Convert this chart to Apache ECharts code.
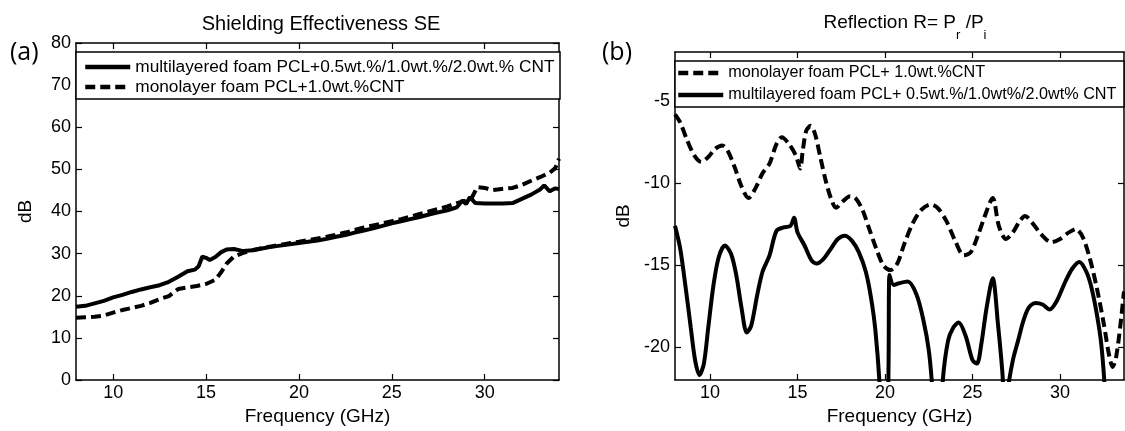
<!DOCTYPE html>
<html><head><meta charset="utf-8">
<script src="https://cdn.jsdelivr.net/npm/echarts@6/dist/echarts.min.js"></script>
<style>html,body{margin:0;padding:0;background:#fff}#c{width:1125px;height:431px}</style>
</head><body><div id="c"></div>
<script>
// ---------- DATA ----------
// (a) Shielding effectiveness SE (dB) vs frequency (GHz)
const seMultiFreq = [8.0,8.5,9.0,9.5,10.0,10.5,11.0,11.5,12.0,12.5,13.0,13.5,14.0,14.4,14.6,14.8,15.0,15.2,15.5,15.8,16.1,16.5,17.0,17.5,18.0,18.5,19.0,19.5,20.0,20.5,21.0,21.5,22.0,22.5,23.0,23.5,24.0,24.5,25.0,25.5,26.0,26.5,27.0,27.5,28.0,28.5,28.8,29.0,29.2,29.5,30.0,30.5,31.0,31.5,32.0,32.5,33.0,33.2,33.5,33.8,34.0];
const seMulti     = [17.4,17.6,18.2,18.8,19.6,20.2,20.9,21.5,22.0,22.5,23.3,24.5,25.8,26.2,27.0,29.3,29.0,28.5,29.2,30.3,31.0,31.1,30.6,30.8,31.2,31.6,31.9,32.2,32.5,32.8,33.1,33.5,34.0,34.4,35.0,35.5,36.0,36.6,37.2,37.7,38.2,38.7,39.3,39.8,40.3,41.0,42.6,41.8,43.4,42.0,41.9,41.9,41.9,42.0,43.0,44.0,45.3,46.2,44.8,45.5,45.3];
const seMonoFreq  = [8.0,8.5,9.0,9.5,10.0,10.5,11.0,11.5,12.0,12.5,13.0,13.5,14.0,14.5,15.0,15.5,15.8,16.1,16.5,17.0,17.5,18.0,18.5,19.0,19.5,20.0,20.5,21.0,21.5,22.0,22.5,23.0,23.5,24.0,24.5,25.0,25.5,26.0,26.5,27.0,27.5,28.0,28.5,29.0,29.3,29.6,30.0,30.4,30.8,31.5,32.0,32.5,33.0,33.5,33.8,34.0];
const seMono      = [14.8,14.9,15.0,15.3,16.0,16.6,17.1,17.6,18.3,19.2,19.9,21.6,22.0,22.3,22.8,23.8,25.5,27.6,29.3,30.2,30.8,31.3,31.7,32.1,32.5,32.8,33.2,33.6,34.0,34.5,35.0,35.6,36.2,36.7,37.2,37.7,38.2,38.8,39.4,40.0,40.6,41.2,42.0,42.6,43.2,45.8,45.6,45.1,45.3,45.6,46.3,47.3,48.2,49.2,50.3,52.5];

// (b) Reflection R (dB) vs frequency (GHz)
const rMonoFreq = [8.0,8.3,8.7,9.1,9.5,9.9,10.3,10.7,11.0,11.4,11.8,12.2,12.6,13.0,13.4,13.8,14.1,14.5,14.9,15.15,15.3,15.5,15.75,16.0,16.3,16.6,16.9,17.2,17.6,18.0,18.3,18.7,19.1,19.5,19.9,20.3,20.7,21.1,21.6,22.1,22.6,23.0,23.5,24.0,24.5,24.9,25.3,25.7,26.15,26.5,26.9,27.3,27.7,28.0,28.4,28.9,29.5,30.0,30.5,30.9,31.3,31.7,32.1,32.5,32.8,33.0,33.2,33.45,33.65];
const rMono     = [-5.8,-6.3,-7.4,-8.3,-8.7,-8.4,-7.9,-7.7,-8.0,-9.0,-10.2,-10.9,-10.3,-9.4,-8.8,-7.6,-7.2,-7.6,-8.3,-9.1,-8.0,-6.8,-6.5,-7.0,-8.4,-9.8,-10.9,-11.5,-11.1,-10.8,-10.9,-11.6,-12.8,-14.0,-15.0,-15.3,-14.9,-13.7,-12.4,-11.6,-11.3,-11.5,-12.3,-13.5,-14.4,-14.2,-13.2,-12.0,-10.9,-12.6,-13.4,-13.0,-12.3,-12.0,-12.4,-13.1,-13.6,-13.4,-13.0,-12.8,-13.3,-14.6,-16.4,-18.6,-20.5,-21.2,-20.6,-18.6,-16.6];
const rMultiFreq = [8.0,8.3,8.6,8.9,9.15,9.4,9.65,9.9,10.2,10.5,10.85,11.2,11.5,11.8,12.1,12.35,12.7,13.0,13.4,13.8,14.2,14.6,14.8,15.0,15.4,15.8,16.1,16.5,16.9,17.3,17.7,18.1,18.5,18.9,19.2,19.45,19.7,19.8,20.1,20.2,20.25,20.5,20.8,21.3,21.8,22.2,22.5,22.7,22.9,23.1,23.3,23.6,23.9,24.2,24.6,25.0,25.25,25.5,25.8,26.15,26.45,26.7,26.85,27.05,27.3,27.6,27.9,28.2,28.6,29.0,29.4,29.8,30.3,30.7,31.1,31.5,31.8,32.1,32.35,32.55,32.7];
const rMulti     = [-12.6,-14.0,-16.3,-18.8,-20.8,-21.7,-21.0,-18.8,-16.2,-14.5,-13.8,-14.3,-15.6,-17.6,-19.1,-18.7,-16.8,-15.4,-14.4,-12.9,-12.7,-12.6,-12.1,-13.0,-13.8,-14.7,-14.9,-14.6,-14.0,-13.4,-13.2,-13.5,-14.2,-15.4,-17.0,-19.0,-22.5,-26,-26,-21,-15.6,-16.2,-16.1,-16.0,-16.8,-18.4,-20.2,-22.5,-26,-26,-22.0,-19.6,-18.8,-18.5,-19.3,-20.8,-21.0,-19.8,-17.6,-15.8,-18.6,-21.5,-24,-22.3,-20.8,-19.6,-18.4,-17.6,-17.3,-17.4,-17.7,-17.2,-16.0,-15.2,-14.8,-15.4,-16.4,-18.0,-19.8,-22.5,-26];

const freqTicks = [10, 15, 20, 25, 30];
const rTicks = [-20, -15, -10, -5];

const nameMultiA = 'multilayered foam PCL+0.5wt.%/1.0wt.%/2.0wt.% CNT';
const nameMonoA  = 'monolayer foam PCL+1.0wt.%CNT';
const nameMonoB  = 'monolayer foam PCL+ 1.0wt.%CNT';
const nameMultiB = 'multilayered foam PCL+ 0.5wt.%/1.0wt%/2.0wt% CNT';

// ---------- CHART ----------
const FONT = '"Liberation Sans", Arial, sans-serif';
const pairs = (xs, ys) => xs.map((x, i) => [x, ys[i]]);
const lineAx = { show: true, onZero: false, lineStyle: { color: '#000', width: 1.5 } };

function xAx(grid, pos, min, max, labels) {
  return {
    type: 'value', gridIndex: grid, position: pos, min: min, max: max,
    axisLine: lineAx,
    axisTick: { show: true, inside: true, length: 6, customValues: freqTicks, lineStyle: { color: '#000', width: 1.2 } },
    axisLabel: labels ? { show: true, customValues: freqTicks, color: '#000', fontSize: 18, fontFamily: FONT, margin: 4 } : { show: false },
    splitLine: { show: false },
    name: labels ? 'Frequency (GHz)' : '', nameLocation: 'middle', nameGap: 27,
    nameTextStyle: { color: '#000', fontSize: 19, fontFamily: FONT }
  };
}
function yAx(grid, pos, min, max, custom, interval, labels, gap) {
  const tick = { show: true, inside: true, length: 6, lineStyle: { color: '#000', width: 1.2 } };
  const lab = labels ? { show: true, color: '#000', fontSize: 18, fontFamily: FONT, margin: 5 } : { show: false };
  if (custom) { tick.customValues = custom; if (labels) lab.customValues = custom; }
  const a = {
    type: 'value', gridIndex: grid, position: pos, min: min, max: max,
    axisLine: lineAx, axisTick: tick, axisLabel: lab, splitLine: { show: false },
    name: labels ? 'dB' : '', nameLocation: 'middle', nameGap: gap || 40,
    nameTextStyle: { color: '#000', fontSize: 19, fontFamily: FONT }
  };
  if (interval) a.interval = interval;
  return a;
}
function legendAt(name, left, top, size) {
  return {
    data: [name], left: left, top: top, padding: 0, itemWidth: 45, itemHeight: 18, z: 10,
    selectedMode: false,
    itemStyle: { opacity: 0, borderWidth: 0 },
    lineStyle: { width: 4.5 },
    textStyle: { color: '#000', fontSize: size, fontFamily: FONT, lineHeight: 18 }
  };
}
const solid = { color: '#000', width: 4, type: 'solid' };
const dashed = { color: '#000', width: 4, type: [10, 5] };

const option = {
  backgroundColor: '#fff',
  animation: false,
  title: [
    { text: 'Shielding Effectiveness SE', left: 316, top: 9, textAlign: 'center',
      textStyle: { color: '#000', fontSize: 20, fontWeight: 'normal', fontFamily: FONT } },
    { text: '{m|Reflection R= P}{s|r}{m| /P}{s|i}', left: 900, top: -2, textAlign: 'center',
      textStyle: { color: '#000', fontWeight: 'normal', fontFamily: FONT,
        rich: { m: { fontSize: 19, fontFamily: FONT, color: '#000' },
                s: { fontSize: 13, fontFamily: FONT, color: '#000', padding: [26, 0, 0, 0] } } } }
  ],
  grid: [
    { left: 76, right: 566, top: 43, bottom: 46 },
    { left: 675, right: 1, top: 52, bottom: 46 }
  ],
  xAxis: [
    xAx(0, 'bottom', 8, 34, true), xAx(0, 'top', 8, 34, false),
    xAx(1, 'bottom', 8, 33.65, true), xAx(1, 'top', 8, 33.65, false)
  ],
  yAxis: [
    yAx(0, 'left', 0, 80, null, 10, true, 41), yAx(0, 'right', 0, 80, null, 10, false),
    yAx(1, 'left', -22, -2, rTicks, null, true, 42), yAx(1, 'right', -22, -2, rTicks, null, false)
  ],
  legend: [
    legendAt(nameMultiA, 83, 58, 17.3),
    legendAt(nameMonoA, 83, 78, 17.3),
    legendAt(nameMonoB, 676, 64, 16.2),
    legendAt(nameMultiB, 676, 86, 16.2)
  ],
  graphic: [
    { type: 'rect', z: 5, shape: { x: 76, y: 52, width: 484, height: 47 },
      style: { fill: '#fff', stroke: '#000', lineWidth: 1.5 } },
    { type: 'rect', z: 5, shape: { x: 675, y: 61, width: 449, height: 46 },
      style: { fill: '#fff', stroke: '#000', lineWidth: 1.5 } },
    { type: 'text', z: 6, x: 10, y: 53,
      style: { text: '(a)', fill: '#000', fontSize: 25, fontFamily: '"Open Sans", sans-serif', verticalAlign: 'middle' } },
    { type: 'text', z: 6, x: 602, y: 53,
      style: { text: '(b)', fill: '#000', fontSize: 25, fontFamily: '"Open Sans", sans-serif', verticalAlign: 'middle' } }
  ],
  series: [
    { type: 'line', name: nameMultiA, xAxisIndex: 0, yAxisIndex: 0, data: pairs(seMultiFreq, seMulti),
      symbol: 'none', lineStyle: solid, itemStyle: { color: '#000' }, clip: true },
    { type: 'line', name: nameMonoA, xAxisIndex: 0, yAxisIndex: 0, data: pairs(seMonoFreq, seMono),
      symbol: 'none', lineStyle: dashed, itemStyle: { color: '#000' }, clip: true },
    { type: 'line', name: nameMonoB, xAxisIndex: 2, yAxisIndex: 2, data: pairs(rMonoFreq, rMono),
      symbol: 'none', smooth: 0.3, lineStyle: dashed, itemStyle: { color: '#000' }, clip: true },
    { type: 'line', name: nameMultiB, xAxisIndex: 2, yAxisIndex: 2, data: pairs(rMultiFreq, rMulti),
      symbol: 'none', smooth: 0.3, lineStyle: solid, itemStyle: { color: '#000' }, clip: true }
  ]
};
const chart = echarts.init(document.getElementById('c'), null, { renderer: 'canvas' });
chart.setOption(option);
</script>
</body></html>
